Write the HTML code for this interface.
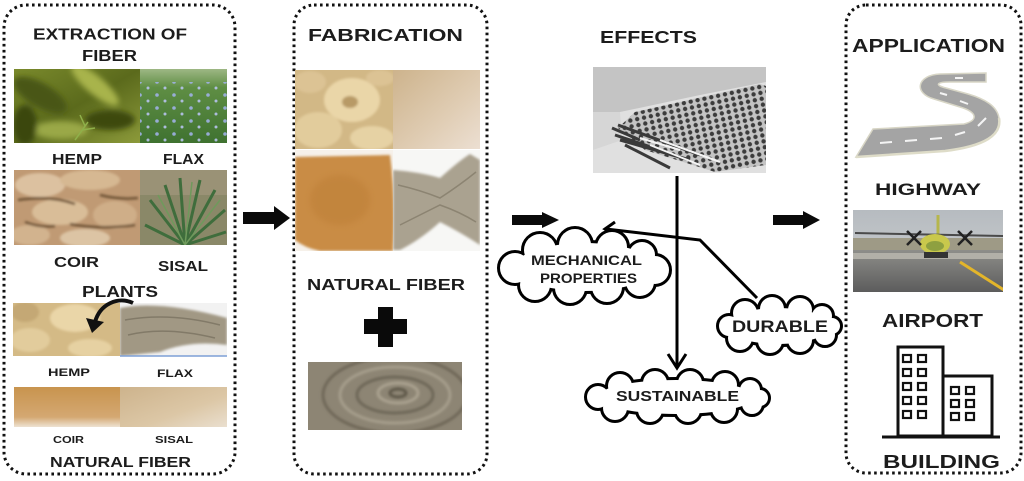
<!DOCTYPE html>
<html><head><meta charset="utf-8"><style>
html,body{margin:0;padding:0;background:#fff;overflow:hidden}
svg{display:block}
text{font-family:"Liberation Sans",Arial,sans-serif;font-weight:bold;fill:#1c1c1c}
</style></head><body>
<svg width="1024" height="481" viewBox="0 0 1024 481" xmlns="http://www.w3.org/2000/svg">
<defs>
<filter id="b3" x="-20%" y="-20%" width="140%" height="140%"><feGaussianBlur stdDeviation="3"/></filter>
<filter id="b1"><feGaussianBlur stdDeviation="1.2"/></filter>
<clipPath id="cHemp"><rect x="14" y="69" width="126" height="74"/></clipPath>
<clipPath id="cFlax"><rect x="140" y="69" width="87" height="74"/></clipPath>
<clipPath id="cCoir"><rect x="14" y="170" width="126" height="75"/></clipPath>
<clipPath id="cSisal"><rect x="140" y="170" width="87" height="75"/></clipPath>
<clipPath id="cR3a"><rect x="13" y="303" width="107" height="53"/></clipPath>
<clipPath id="cR3b"><rect x="120" y="303" width="107" height="53"/></clipPath>
<clipPath id="cM1a"><rect x="295" y="70" width="98" height="79"/></clipPath>
<clipPath id="cM2a"><rect x="295" y="150" width="98" height="101"/></clipPath>
<clipPath id="cM2b"><rect x="393" y="150" width="87" height="101"/></clipPath>
<clipPath id="cMort"><rect x="308" y="362" width="154" height="68"/></clipPath>
<clipPath id="cEff"><rect x="593" y="67" width="173" height="106"/></clipPath>
<clipPath id="cAir"><rect x="853" y="210" width="150" height="82"/></clipPath>
<linearGradient id="gHemp" x1="0" y1="0" x2="1" y2="1"><stop offset="0" stop-color="#7a8a2c"/><stop offset=".5" stop-color="#5b6a1c"/><stop offset="1" stop-color="#8c9a3a"/></linearGradient>
<linearGradient id="gFlax" x1="0" y1="0" x2="0" y2="1"><stop offset="0" stop-color="#9db784"/><stop offset=".25" stop-color="#5f8e44"/><stop offset="1" stop-color="#3f7230"/></linearGradient>
<pattern id="pFlax" width="17" height="13" patternUnits="userSpaceOnUse"><circle cx="4" cy="4" r="1.8" fill="#9fb1e6"/><circle cx="12" cy="10" r="1.5" fill="#b7c3ee"/></pattern>
<linearGradient id="gM1b" x1="0" y1="0" x2="1" y2="1"><stop offset="0" stop-color="#cdb38c"/><stop offset=".6" stop-color="#e0cdb4"/><stop offset="1" stop-color="#ecdfd2"/></linearGradient>
<linearGradient id="gR4a" x1="0" y1="0" x2="0" y2="1"><stop offset="0" stop-color="#c8944e"/><stop offset=".75" stop-color="#d4a872"/><stop offset="1" stop-color="#eee2d2"/></linearGradient>
<linearGradient id="gR4b" x1="0" y1="0" x2="1" y2="1"><stop offset="0" stop-color="#cdb38c"/><stop offset=".6" stop-color="#dcc7a6"/><stop offset="1" stop-color="#eadfcf"/></linearGradient>
<linearGradient id="gSky" x1="0" y1="0" x2="0" y2="1"><stop offset="0" stop-color="#b6bbc0"/><stop offset="1" stop-color="#d0d2d2"/></linearGradient>
<linearGradient id="gRun" x1="0" y1="0" x2="0" y2="1"><stop offset="0" stop-color="#8e8e8a"/><stop offset="1" stop-color="#5c5c5c"/></linearGradient>
<pattern id="pMesh" width="7" height="6" patternUnits="userSpaceOnUse" patternTransform="rotate(-12)"><rect width="7" height="6" fill="#c4c4c4"/><circle cx="3.5" cy="3" r="2.2" fill="#3c3c3c"/></pattern>
</defs>
<rect width="1024" height="481" fill="#fff"/>

<!-- panels -->
<rect x="4" y="5" width="231" height="469" rx="22" fill="none" stroke="#111" stroke-width="3" stroke-dasharray="2.6 3.4"/>
<rect x="294" y="5" width="193" height="469" rx="20" fill="none" stroke="#111" stroke-width="3" stroke-dasharray="2.6 3.4"/>
<rect x="846" y="5" width="175" height="468" rx="20" fill="none" stroke="#111" stroke-width="3" stroke-dasharray="2.6 3.4"/>

<!-- LEFT PANEL -->
<text x="33" y="39.5" font-size="16" textLength="154" lengthAdjust="spacingAndGlyphs">EXTRACTION OF</text>
<text x="82" y="61" font-size="16" textLength="55" lengthAdjust="spacingAndGlyphs">FIBER</text>

<g clip-path="url(#cHemp)">
<rect x="14" y="69" width="126" height="74" fill="url(#gHemp)"/>
<g filter="url(#b3)">
<ellipse cx="40" cy="95" rx="30" ry="12" fill="#4a5714" transform="rotate(30 40 95)"/>
<ellipse cx="95" cy="85" rx="30" ry="9" fill="#a8b44c" transform="rotate(40 95 85)"/>
<ellipse cx="110" cy="120" rx="25" ry="10" fill="#3d4a10"/>
<ellipse cx="60" cy="130" rx="28" ry="9" fill="#9aa846"/>
<ellipse cx="25" cy="125" rx="12" ry="20" fill="#3b4610"/>
</g>
<path d="M75 140 L88 122 M82 130 L95 128 M85 126 L80 115" stroke="#8fb04a" stroke-width="1.5"/>
</g>
<g clip-path="url(#cFlax)">
<rect x="140" y="69" width="87" height="74" fill="url(#gFlax)"/>
<rect x="140" y="82" width="87" height="61" fill="url(#pFlax)" opacity=".9"/>
</g>
<text x="52" y="164" font-size="15" textLength="50" lengthAdjust="spacingAndGlyphs">HEMP</text>
<text x="163" y="164" font-size="15" textLength="41" lengthAdjust="spacingAndGlyphs">FLAX</text>

<g clip-path="url(#cCoir)">
<rect x="14" y="170" width="126" height="75" fill="#c09a74"/>
<g filter="url(#b1)">
<ellipse cx="40" cy="185" rx="25" ry="12" fill="#dcc1a0"/>
<ellipse cx="90" cy="180" rx="30" ry="10" fill="#d6b892"/>
<ellipse cx="60" cy="212" rx="28" ry="13" fill="#d9bd98"/>
<ellipse cx="115" cy="215" rx="22" ry="14" fill="#cfae88"/>
<ellipse cx="30" cy="235" rx="20" ry="10" fill="#d2b38e"/>
<ellipse cx="85" cy="238" rx="25" ry="9" fill="#dcc4a4"/>
<path d="M18 200 Q50 195 75 204 M70 224 Q100 230 135 225 M25 222 Q40 228 55 226 M100 195 Q120 200 138 198" stroke="#6e5236" stroke-width="2.5" fill="none"/>
</g>
</g>
<g clip-path="url(#cSisal)">
<rect x="140" y="170" width="87" height="75" fill="#8a8868"/>
<rect x="140" y="170" width="87" height="25" fill="#9a9276"/>
<g stroke="#3f6d3c" stroke-width="3" fill="none">
<path d="M185 245 L150 200 M185 245 L165 185 M185 245 L180 178 M185 245 L200 180 M185 245 L215 190 M185 245 L225 210 M185 245 L145 225 M185 245 L226 232"/>
</g>
<g stroke="#6f9a5c" stroke-width="1.5" fill="none"><path d="M185 245 L158 195 M185 245 L192 182 M185 245 L220 200"/></g>
</g>
<text x="54" y="267" font-size="14.5" textLength="45" lengthAdjust="spacingAndGlyphs">COIR</text>
<text x="158" y="271" font-size="14.5" textLength="50" lengthAdjust="spacingAndGlyphs">SISAL</text>
<text x="82" y="297" font-size="16" textLength="76" lengthAdjust="spacingAndGlyphs">PLANTS</text>

<g clip-path="url(#cR3a)">
<rect x="13" y="303" width="107" height="53" fill="#d4ba86"/>
<g filter="url(#b1)">
<ellipse cx="75" cy="318" rx="25" ry="14" fill="#ead6a8"/>
<ellipse cx="30" cy="340" rx="20" ry="12" fill="#e2cc9c"/>
<ellipse cx="90" cy="348" rx="22" ry="9" fill="#e6d1a2"/>
<ellipse cx="25" cy="312" rx="14" ry="10" fill="#c4a874"/>
</g>
</g>
<g clip-path="url(#cR3b)">
<rect x="120" y="303" width="107" height="53" fill="#f2f2f2"/>
<path d="M120 308 Q160 300 227 318 L227 345 Q190 340 160 352 L120 356 Z" fill="#a19884" filter="url(#b1)"/>
<path d="M125 320 Q170 312 220 325 M128 335 Q165 326 215 338" stroke="#827a68" stroke-width="1.5" fill="none"/>
</g>
<line x1="120" y1="356" x2="227" y2="356" stroke="#7d9fd6" stroke-width="1.5"/>
<path d="M133 303 C118 296 100 304 95 322" stroke="#111" stroke-width="4" fill="none"/>
<polygon points="86,318 104,322 92,333" fill="#111"/>
<text x="48" y="376" font-size="11" textLength="42" lengthAdjust="spacingAndGlyphs">HEMP</text>
<text x="157" y="377" font-size="11" textLength="36" lengthAdjust="spacingAndGlyphs">FLAX</text>

<rect x="14" y="387" width="106" height="40" fill="url(#gR4a)"/>
<rect x="120" y="387" width="107" height="40" fill="url(#gR4b)"/>
<text x="53" y="443" font-size="10.5" textLength="31" lengthAdjust="spacingAndGlyphs">COIR</text>
<text x="155" y="443" font-size="10.5" textLength="38" lengthAdjust="spacingAndGlyphs">SISAL</text>
<text x="50" y="467" font-size="15" textLength="141" lengthAdjust="spacingAndGlyphs">NATURAL FIBER</text>

<!-- arrow 1 -->
<polygon points="243,212 274,212 274,206 290,218 274,230 274,224 243,224" fill="#0a0a0a"/>

<!-- MIDDLE PANEL -->
<text x="308" y="41" font-size="17.5" textLength="155" lengthAdjust="spacingAndGlyphs">FABRICATION</text>
<g clip-path="url(#cM1a)">
<rect x="295" y="70" width="98" height="79" fill="#d2b886"/>
<g filter="url(#b1)">
<ellipse cx="352" cy="100" rx="28" ry="22" fill="#ead6a8"/>
<ellipse cx="350" cy="102" rx="8" ry="6" fill="#b89a66"/>
<ellipse cx="318" cy="130" rx="24" ry="18" fill="#e2cc9c"/>
<ellipse cx="372" cy="138" rx="22" ry="12" fill="#e6d2a4"/>
<ellipse cx="310" cy="82" rx="16" ry="11" fill="#dcc394"/>
<ellipse cx="380" cy="78" rx="14" ry="8" fill="#dcc394"/>
</g>
</g>
<rect x="393" y="70" width="87" height="79" fill="url(#gM1b)"/>
<g clip-path="url(#cM2a)">
<rect x="295" y="150" width="98" height="101" fill="#f6f1ea"/>
<path d="M295 157 L390 155 Q396 200 393 251 L320 251 Q305 248 295 240 Z" fill="#c98c44" filter="url(#b1)"/>
<ellipse cx="340" cy="200" rx="30" ry="25" fill="#bb7d36" opacity=".45" filter="url(#b3)"/>
</g>
<g clip-path="url(#cM2b)">
<rect x="393" y="150" width="87" height="101" fill="#f7f7f5"/>
<path d="M393 170 Q420 172 440 178 Q460 160 470 154 L480 160 L480 245 Q460 232 440 222 Q420 240 400 250 L393 250 Z" fill="#aaa290" filter="url(#b1)"/>
<path d="M398 185 Q420 190 440 198 Q460 185 476 172 M400 225 Q420 215 440 205 Q460 212 476 222" stroke="#8c8472" stroke-width="1.5" fill="none"/>
</g>
<text x="307" y="290" font-size="16" textLength="158" lengthAdjust="spacingAndGlyphs">NATURAL FIBER</text>
<polygon points="378,307 393,307 393,319 407,319 407,334 393,334 393,347 378,347 378,334 364,334 364,319 378,319" fill="#0a0a0a"/>
<g clip-path="url(#cMort)">
<rect x="308" y="362" width="154" height="68" fill="#8d8574"/>
<g fill="none" stroke-width="3" filter="url(#b1)">
<ellipse cx="395" cy="395" rx="55" ry="28" stroke="#a69e8c"/>
<ellipse cx="395" cy="395" rx="38" ry="18" stroke="#6e6758"/>
<ellipse cx="398" cy="393" rx="20" ry="10" stroke="#aaa290"/>
<ellipse cx="398" cy="393" rx="8" ry="4" stroke="#5e584a"/>
<ellipse cx="395" cy="395" rx="72" ry="38" stroke="#6f6858"/>
</g>
</g>

<!-- arrow 2 -->
<polygon points="512,215 542,215 542,212 559,220 542,228 542,225 512,225" fill="#0a0a0a"/>

<!-- EFFECTS -->
<text x="600" y="43" font-size="17.5" textLength="97" lengthAdjust="spacingAndGlyphs">EFFECTS</text>
<g clip-path="url(#cEff)">
<rect x="593" y="67" width="173" height="106" fill="#e0e0e0"/>
<polygon points="593,67 766,67 766,82 700,95 620,112 593,112" fill="#c4c4c4"/>
<polygon points="593,112 620,112 622,140 593,150" fill="#d6d6d6"/>
<polygon points="635,112 760,84 766,86 766,165 715,172 645,150 618,128" fill="url(#pMesh)"/>
<path d="M612 128 L640 140 M615 135 L660 150 M620 140 L690 160 M618 125 L700 155 M625 145 L670 168" stroke="#3a3a3a" stroke-width="3"/>
<path d="M640 138 L680 150 M650 145 L700 165 M660 140 L720 162" stroke="#f4f4f4" stroke-width="2"/>
</g>

<!-- connectors -->
<line x1="677" y1="176" x2="677" y2="367" stroke="#000" stroke-width="3"/>
<polyline points="668,354 677,368 686,354" fill="none" stroke="#000" stroke-width="3"/>
<polyline points="757,298 700,240 606,229" fill="none" stroke="#000" stroke-width="3"/>
<polyline points="615,222 605,229 614,234" fill="none" stroke="#000" stroke-width="3"/>

<!-- clouds: stroke layer then fill layer -->
<g fill="#fff" stroke="#000" stroke-width="6">
<ellipse cx="585" cy="267" rx="70" ry="24"/>
<circle cx="540" cy="250" r="16"/><circle cx="575" cy="245" r="16"/><circle cx="612" cy="247" r="15"/><circle cx="642" cy="255" r="13"/>
<circle cx="535" cy="285" r="15"/><circle cx="570" cy="288" r="15"/><circle cx="607" cy="287" r="15"/><circle cx="640" cy="282" r="14"/>
<circle cx="515" cy="268" r="15"/><circle cx="655" cy="270" r="14"/>
</g>
<g fill="#fff">
<ellipse cx="585" cy="267" rx="70" ry="24"/>
<circle cx="540" cy="250" r="16"/><circle cx="575" cy="245" r="16"/><circle cx="612" cy="247" r="15"/><circle cx="642" cy="255" r="13"/>
<circle cx="535" cy="285" r="15"/><circle cx="570" cy="288" r="15"/><circle cx="607" cy="287" r="15"/><circle cx="640" cy="282" r="14"/>
<circle cx="515" cy="268" r="15"/><circle cx="655" cy="270" r="14"/>
</g>
<line x1="677" y1="262" x2="677" y2="300" stroke="#000" stroke-width="3"/>

<g fill="#fff" stroke="#000" stroke-width="6">
<ellipse cx="778" cy="326" rx="52" ry="18"/>
<circle cx="745" cy="313" r="12"/><circle cx="772" cy="309" r="12"/><circle cx="800" cy="310" r="12"/><circle cx="822" cy="316" r="10"/>
<circle cx="740" cy="338" r="12"/><circle cx="770" cy="341" r="12"/><circle cx="800" cy="340" r="12"/><circle cx="825" cy="335" r="10"/>
<circle cx="729" cy="326" r="10"/><circle cx="832" cy="326" r="8"/>
</g>
<g fill="#fff">
<ellipse cx="778" cy="326" rx="52" ry="18"/>
<circle cx="745" cy="313" r="12"/><circle cx="772" cy="309" r="12"/><circle cx="800" cy="310" r="12"/><circle cx="822" cy="316" r="10"/>
<circle cx="740" cy="338" r="12"/><circle cx="770" cy="341" r="12"/><circle cx="800" cy="340" r="12"/><circle cx="825" cy="335" r="10"/>
<circle cx="729" cy="326" r="10"/><circle cx="832" cy="326" r="8"/>
</g>

<g fill="#fff" stroke="#000" stroke-width="6">
<ellipse cx="676" cy="397" rx="78" ry="17"/>
<circle cx="620" cy="386" r="12"/><circle cx="655" cy="383" r="12"/><circle cx="690" cy="383" r="12"/><circle cx="725" cy="385" r="12"/><circle cx="750" cy="390" r="10"/>
<circle cx="615" cy="408" r="12"/><circle cx="650" cy="410" r="12"/><circle cx="688" cy="410" r="12"/><circle cx="724" cy="409" r="12"/><circle cx="752" cy="404" r="10"/>
<circle cx="598" cy="397" r="11"/><circle cx="760" cy="398" r="8"/>
</g>
<g fill="#fff">
<ellipse cx="676" cy="397" rx="78" ry="17"/>
<circle cx="620" cy="386" r="12"/><circle cx="655" cy="383" r="12"/><circle cx="690" cy="383" r="12"/><circle cx="725" cy="385" r="12"/><circle cx="750" cy="390" r="10"/>
<circle cx="615" cy="408" r="12"/><circle cx="650" cy="410" r="12"/><circle cx="688" cy="410" r="12"/><circle cx="724" cy="409" r="12"/><circle cx="752" cy="404" r="10"/>
<circle cx="598" cy="397" r="11"/><circle cx="760" cy="398" r="8"/>
</g>

<text x="531" y="265" font-size="13.5" textLength="111" lengthAdjust="spacingAndGlyphs">MECHANICAL</text>
<text x="540" y="283" font-size="13.5" textLength="97" lengthAdjust="spacingAndGlyphs">PROPERTIES</text>
<text x="732" y="332" font-size="17" textLength="96" lengthAdjust="spacingAndGlyphs">DURABLE</text>
<text x="616" y="401" font-size="14.5" textLength="123" lengthAdjust="spacingAndGlyphs">SUSTAINABLE</text>

<!-- arrow 3 -->
<polygon points="773,215 803,215 803,211 820,220 803,229 803,225 773,225" fill="#0a0a0a"/>

<!-- RIGHT PANEL -->
<text x="852" y="52" font-size="18.5" textLength="153" lengthAdjust="spacingAndGlyphs">APPLICATION</text>
<path d="M986 73 L940 74 C917 75 913 93 934 99 L960 107 C977 112 979 120 964 124 L873 129 L856 157 L945 151 C985 146 1002 135 999 118 C997 106 985 99 968 94 L946 88 C934 85 937 82 950 82 L986 82 Z" fill="#a4a4a4" stroke="#d8d6c6" stroke-width="1.5"/>
<path d="M856 157 L945 151 C985 146 1002 135 999 118" fill="none" stroke="#dedcc8" stroke-width="2.5"/>
<g stroke="#f4f4f4" stroke-width="2">
<line x1="880" y1="143" x2="892" y2="142"/><line x1="905" y1="141" x2="917" y2="140"/><line x1="930" y1="139" x2="942" y2="138"/><line x1="955" y1="135" x2="965" y2="132"/><line x1="978" y1="126" x2="986" y2="118"/>
<line x1="960" y1="101" x2="968" y2="104"/><line x1="940" y1="93" x2="947" y2="95"/><line x1="955" y1="78" x2="963" y2="78"/>
</g>
<text x="875" y="195" font-size="16.5" textLength="106" lengthAdjust="spacingAndGlyphs">HIGHWAY</text>

<g clip-path="url(#cAir)">
<rect x="853" y="210" width="150" height="82" fill="url(#gSky)"/>
<rect x="853" y="238" width="150" height="14" fill="#9e9a86"/>
<rect x="853" y="250" width="150" height="42" fill="url(#gRun)"/>
<rect x="853" y="253" width="150" height="6" fill="#b2b0a8"/>
<line x1="960" y1="262" x2="1004" y2="290" stroke="#e3b52a" stroke-width="3"/>
<line x1="938" y1="215" x2="938" y2="238" stroke="#b6b64c" stroke-width="3"/>
<path d="M855 233 L1003 236" stroke="#4a4a4a" stroke-width="2"/>
<ellipse cx="935" cy="244" rx="15" ry="10" fill="#c9c84c"/>
<ellipse cx="935" cy="246" rx="9" ry="5" fill="#8ea040"/>
<g stroke="#222" stroke-width="2.5">
<path d="M907 231 L921 245 M921 231 L907 245"/>
<path d="M958 231 L972 245 M972 231 L958 245"/>
</g>
<rect x="924" y="252" width="24" height="6" fill="#333"/>
</g>
<text x="882" y="327" font-size="18" textLength="101" lengthAdjust="spacingAndGlyphs">AIRPORT</text>

<g fill="none" stroke="#111" stroke-width="3">
<rect x="898" y="347" width="45" height="89"/>
<rect x="943" y="376" width="49" height="60"/>
<line x1="882" y1="437" x2="1000" y2="437"/>
</g>
<g fill="none" stroke="#111" stroke-width="2.2">
<rect x="903" y="355" width="8" height="7"/><rect x="918" y="355" width="8" height="7"/>
<rect x="903" y="369" width="8" height="7"/><rect x="918" y="369" width="8" height="7"/>
<rect x="903" y="383" width="8" height="7"/><rect x="918" y="383" width="8" height="7"/>
<rect x="903" y="397" width="8" height="7"/><rect x="918" y="397" width="8" height="7"/>
<rect x="903" y="411" width="8" height="7"/><rect x="918" y="411" width="8" height="7"/>
<rect x="951" y="387" width="8" height="7"/><rect x="966" y="387" width="8" height="7"/>
<rect x="951" y="400" width="8" height="7"/><rect x="966" y="400" width="8" height="7"/>
<rect x="951" y="413" width="8" height="7"/><rect x="966" y="413" width="8" height="7"/>
</g>
<text x="883" y="468" font-size="18" textLength="117" lengthAdjust="spacingAndGlyphs">BUILDING</text>
</svg>
</body></html>
